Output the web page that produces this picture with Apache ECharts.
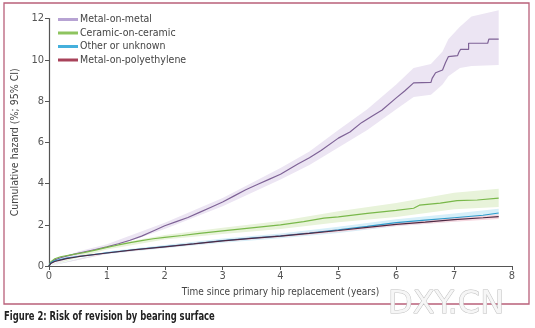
<!DOCTYPE html>
<html><head><meta charset="utf-8">
<script src="https://cdn.jsdelivr.net/npm/echarts@6/dist/echarts.min.js"></script>
<style>html,body{margin:0;padding:0;background:#fff}#c{width:535px;height:328px}</style>
</head><body><div id="c"></div>
<script>
const seriesNames = ['Metal-on-metal','Ceramic-on-ceramic','Other or unknown','Metal-on-polyethylene'];
const xTicks = [0,1,2,3,4,5,6,7,8];
const yTicks = [0,2,4,6,8,10,12];

const momLine = [[0,0],[0.03,0.15],[0.1,0.3],[0.2,0.4],[0.4,0.55],[0.6,0.68],[0.8,0.8],[1.0,0.93],[1.2,1.08],[1.4,1.25],[1.6,1.45],[1.8,1.7],[2.0,1.95],[2.2,2.15],[2.4,2.35],[2.6,2.6],[2.8,2.85],[3.0,3.1],[3.2,3.4],[3.4,3.7],[3.6,3.95],[3.8,4.2],[4.0,4.45],[4.3,4.95],[4.5,5.25],[4.7,5.6],[5.0,6.2],[5.2,6.5],[5.4,6.95],[5.6,7.3],[5.75,7.55],[6.0,8.15],[6.15,8.5],[6.3,8.88],[6.6,8.9],[6.62,9.1],[6.68,9.37],[6.8,9.5],[6.85,9.85],[6.9,10.15],[7.06,10.2],[7.08,10.35],[7.11,10.5],[7.25,10.5],[7.25,10.8],[7.58,10.8],[7.6,11.0],[7.77,11.0]];
const momBandT = [0,0.5,1,2,3,4,4.5,5,5.5,6,6.3,6.6,6.8,6.9,7.1,7.3,7.77];
const momBandLo = [0,0.5,0.82,1.8,2.9,4.2,4.9,5.75,6.6,7.6,8.2,8.3,8.8,9.2,9.6,9.7,9.75];
const momBandHi = [0,0.7,1.05,2.1,3.3,4.75,5.55,6.6,7.6,8.8,9.6,9.8,10.4,11.0,11.6,12.1,12.4];

const cocLine = [[0,0],[0.03,0.2],[0.1,0.35],[0.2,0.45],[0.4,0.55],[0.6,0.65],[0.8,0.77],[1.0,0.9],[1.2,1.02],[1.4,1.13],[1.6,1.23],[1.8,1.32],[2.0,1.39],[2.3,1.48],[2.6,1.58],[3.0,1.7],[3.5,1.85],[4.0,1.99],[4.4,2.15],[4.75,2.32],[5.0,2.38],[5.5,2.55],[6.0,2.7],[6.3,2.8],[6.4,2.95],[6.76,3.05],[7.05,3.17],[7.4,3.2],[7.42,3.29],[7.77,3.29]];
const cocBandT = [0,1,2,3,4,5,6,7,7.77];
const cocBandLo = [0,0.8,1.28,1.55,1.8,2.12,2.38,2.75,2.86];
const cocBandHi = [0,1.0,1.5,1.85,2.18,2.65,3.05,3.55,3.74];

const othLine = [[0,0],[0.03,0.15],[0.1,0.25],[0.3,0.38],[0.5,0.46],[1.0,0.64],[1.5,0.8],[2.0,0.94],[2.5,1.08],[3.0,1.23],[3.5,1.35],[4.0,1.46],[4.5,1.6],[5.0,1.75],[5.5,1.92],[6.0,2.1],[6.5,2.22],[7.0,2.34],[7.5,2.46],[7.77,2.57]];
const othBandT = [0,1,2,3,4,5,6,7,7.77];
const othBandLo = [0,0.58,0.86,1.13,1.34,1.6,1.93,2.14,2.36];
const othBandHi = [0,0.7,1.02,1.33,1.58,1.9,2.27,2.54,2.78];

const mopLine = [[0,0],[0.03,0.12],[0.1,0.22],[0.3,0.36],[0.5,0.45],[1.0,0.63],[1.5,0.79],[2.0,0.93],[2.5,1.07],[3.0,1.22],[3.5,1.34],[4.0,1.45],[4.5,1.58],[5.0,1.72],[5.5,1.87],[6.0,2.02],[6.5,2.13],[7.0,2.25],[7.5,2.34],[7.77,2.39]];
const mopBandT = [0,1,2,3,4,5,6,7,7.77];
const mopBandLo = [0,0.6,0.89,1.17,1.39,1.65,1.94,2.15,2.28];
const mopBandHi = [0,0.66,0.97,1.27,1.51,1.79,2.1,2.35,2.5];

const FONT = "'Liberation Sans Narrow','DejaVu Sans Condensed',sans-serif";

function band(name, T, lo, hi, color) {
  return {
    type: 'custom', name: name, silent: true, z: 1,
    data: T.map((t,i)=>[t, lo[i], hi[i]]),
    renderItem: function(params, api) {
      if (params.dataIndex !== 0) return null;
      const pts = [];
      for (let i=0;i<T.length;i++) pts.push(api.coord([T[i], hi[i]]));
      for (let i=T.length-1;i>=0;i--) pts.push(api.coord([T[i], lo[i]]));
      return {type:'polygon', shape:{points:pts}, style:{fill:color}};
    },
    encode: {x:0, y:[1,2]}
  };
}
function line(name, data, color) {
  return {type:'line', name:name, data:data, showSymbol:false, symbol:'none', z:5,
    lineStyle:{color:color, width:1.2}, itemStyle:{color:color}};
}

const chart = echarts.init(document.getElementById('c'));
chart.setOption({
  animation:false,
  backgroundColor:'#fff',
  grid:{left:49, right:23, top:18.5, bottom:62},
  legend:{
    orient:'vertical', left:53, top:9, itemGap:2.5, itemWidth:20, itemHeight:3, icon:'rect',
    textStyle:{fontFamily:FONT, fontSize:10.5, color:'#444', padding:[0,0,0,-3]},
    data:[
      {name:seriesNames[0], itemStyle:{color:'#b7a3d3'}},
      {name:seriesNames[1], itemStyle:{color:'#8ec45f'}},
      {name:seriesNames[2], itemStyle:{color:'#45b0dc'}},
      {name:seriesNames[3], itemStyle:{color:'#a8425a'}}
    ]
  },
  xAxis:{type:'value', min:0, max:8, interval:1,
    name:'Time since primary hip replacement (years)', nameLocation:'middle', nameGap:21,
    nameTextStyle:{fontFamily:FONT, fontSize:10, color:'#444'},
    axisLine:{lineStyle:{color:'#555', width:1.2}},
    axisTick:{length:4, lineStyle:{color:'#555'}},
    axisLabel:{fontFamily:FONT, fontSize:11, color:'#555', margin:5, formatter:v=>xTicks.includes(v)?String(v):''},
    splitLine:{show:false}},
  yAxis:{type:'value', min:0, max:12, interval:2,
    name:'Cumulative hazard (%; 95% CI)', nameLocation:'middle', nameGap:27, nameRotate:90,
    nameTextStyle:{fontFamily:FONT, fontSize:10.5, color:'#444'},
    axisLine:{show:true, lineStyle:{color:'#555', width:1.2}},
    axisTick:{show:true, length:4, lineStyle:{color:'#555'}},
    axisLabel:{fontFamily:FONT, fontSize:11, color:'#555', margin:5, formatter:v=>yTicks.includes(v)?String(v):''},
    splitLine:{show:false}},
  series:[
    band(seriesNames[0], momBandT, momBandLo, momBandHi, '#ece5f3'),
    band(seriesNames[1], cocBandT, cocBandLo, cocBandHi, '#e8f3da'),
    band(seriesNames[2], othBandT, othBandLo, othBandHi, '#d6eff9'),
    band(seriesNames[3], mopBandT, mopBandLo, mopBandHi, '#f7d8e0'),
    line(seriesNames[0], momLine, '#7e6296'),
    line(seriesNames[1], cocLine, '#79b84a'),
    line(seriesNames[2], othLine, '#2d9ccc'),
    line(seriesNames[3], mopLine, '#4e2a44')
  ],
  graphic:[
    {type:'rect', shape:{x:4, y:3, width:525, height:301}, style:{fill:null, stroke:'#b9607a', lineWidth:1.3}, z:0},
    {type:'text', x:4, y:311, scaleX:0.78, style:{text:'Figure 2: Risk of revision by bearing surface', font:"bold 12px "+FONT, fill:'#222'}},
    {type:'text', x:388, y:289, scaleX:1.0, style:{text:'DXY.CN', font:"32px 'DejaVu Sans'", fill:'#f6f6f6', stroke:'#bdbdbd', lineWidth:1}, z:100}
  ]
});
</script></body></html>
